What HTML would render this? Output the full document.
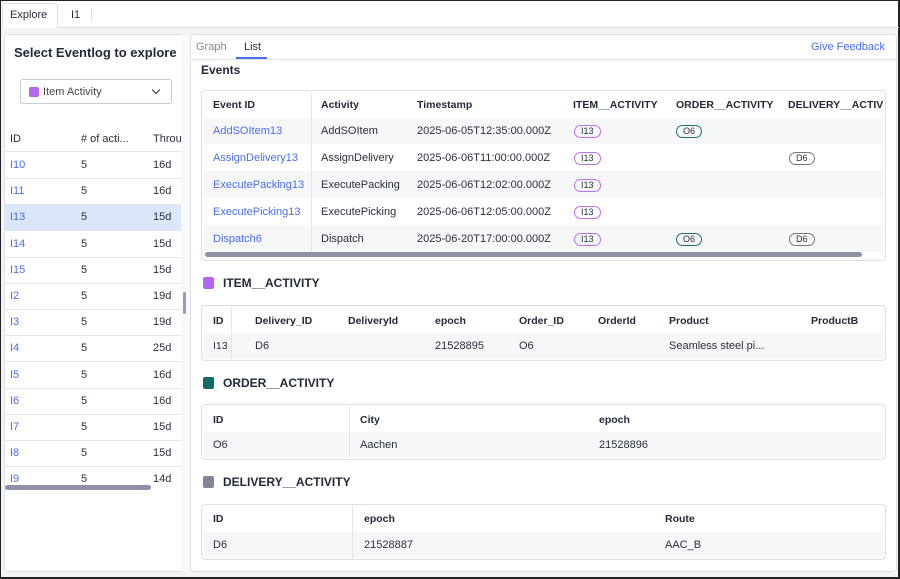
<!DOCTYPE html>
<html><head><style>
*{box-sizing:border-box;margin:0;padding:0}
body{width:900px;height:579px;overflow:hidden;background:#fff;font-family:"Liberation Sans",sans-serif;font-size:11px;color:#2a2f3d;position:relative}
.a{position:absolute;white-space:nowrap}
.lnk{color:#4a6cf0}
.b{font-weight:bold;color:#222a3a}
.h{font-weight:bold;color:#222a3a;font-size:10.5px}
.box{position:absolute;border:1px solid #dde0e6;border-radius:4px;background:#fff}
.pill{position:absolute;height:13px;border-radius:7px;font-size:9px;line-height:11px;padding:0 6px;border:1px solid}
.pi{border-color:#c06cf5}.po{border-color:#1f6f6a}.pd{border-color:#777}
.alt{position:absolute;background:#f6f7f9}
</style></head><body>
<div class="a" style="left:0;top:0;width:900px;height:579px;border:1px solid #222;border-width:1px 2px 2px 1px"></div>
<div class="a" style="top:27px;width:898px;height:1px;background:#dde0e6;left:1px"></div>
<div class="a" style="left:2px;top:3px;width:56px;height:25px;border:1px solid #dde0e6;border-bottom:none;background:#fff;border-radius:3px 3px 0 0"></div>
<div class="a" style="left:10px;top:9px;font-size:11px">Explore</div>
<div class="a" style="left:71px;top:9px">I1</div>
<div class="a" style="left:91px;top:8px;width:1px;height:14px;background:#dde0e6"></div>
<div class="a" style="left:1px;top:28px;width:897px;height:549px;background:#f3f4f6"></div>
<div class="box" style="left:4px;top:34px;width:180px;height:538px;border-right:none"></div>
<div class="a" style="left:181px;top:35px;width:9px;height:536px;background:#f8f9fa"></div>
<div class="a b" style="left:14px;top:45px;font-size:13px">Select Eventlog to explore</div>
<div class="a" style="left:20px;top:79px;width:152px;height:25px;border:1px solid #c9ccd3;border-radius:3px"></div>
<div class="a" style="left:29px;top:87px;width:10px;height:10px;background:#b565f3;border-radius:2px"></div>
<div class="a" style="left:43px;top:86px;color:#444">Item Activity</div>
<div class="a" style="left:153px;top:87px;width:6px;height:6px;border-right:1.5px solid #333;border-bottom:1.5px solid #333;transform:rotate(45deg)"></div>
<div class="a" style="left:10px;top:133px">ID</div>
<div class="a" style="left:81px;top:133px">#&nbsp;of acti...</div>
<div class="a" style="left:153px;top:133px">Throu</div>
<div class="a" style="left:4px;top:151px;width:177px;height:1px;background:#e3e5ea"></div>
<div class="a" style="left:4px;top:205px;width:177px;height:26px;background:#dce6fb"></div>
<div id="rows"></div>
<div class="a" style="left:183px;top:292px;width:3px;height:22px;background:#9a9cab;border-radius:2px"></div>
<div class="a" style="left:5px;top:485px;width:146px;height:5px;background:#8f92a6;border-radius:3px"></div>
<div class="box" style="left:190px;top:34px;width:707px;height:538px;border-radius:4px"></div>
<div class="a" style="left:196px;top:41px;color:#888">Graph</div>
<div class="a" style="left:244px;top:41px">List</div>
<div class="a" style="left:236px;top:57px;width:31px;height:2px;background:#4a6cf0"></div>
<div class="a" style="left:191px;top:59px;width:705px;height:1px;background:#dde0e6"></div>
<div class="a lnk" style="left:811px;top:41px">Give Feedback</div>
<div class="a b" style="left:201px;top:63px;font-size:12px">Events</div>
<div class="box" style="left:201px;top:90px;width:685px;height:171px"></div>
<div class="alt" style="left:203px;top:118px;width:681px;height:26px"></div>
<div class="alt" style="left:203px;top:171px;width:681px;height:27px"></div>
<div class="alt" style="left:203px;top:225px;width:681px;height:27px"></div>
<div class="a" style="left:311px;top:92px;width:1px;height:160px;background:#e3e5ea"></div>
<div class="a" style="left:205px;top:252px;width:657px;height:5px;background:#8f92a6;border-radius:3px"></div>
<div class="a h" style="left:213px;top:99px">Event ID</div>
<div class="a h" style="left:321px;top:99px">Activity</div>
<div class="a h" style="left:417px;top:99px">Timestamp</div>
<div class="a h" style="left:573px;top:99px">ITEM__ACTIVITY</div>
<div class="a h" style="left:676px;top:99px">ORDER__ACTIVITY</div>
<div class="a h" style="left:788px;top:99px;width:96px;overflow:hidden">DELIVERY__ACTIVITY</div>
<div id="ev"></div>
<div class="a" style="left:203px;top:277px;width:11px;height:12px;background:#b565f3;border-radius:2px"></div>
<div class="a b" style="left:223px;top:276px;font-size:12px">ITEM__ACTIVITY</div>
<div class="box" style="left:201px;top:305px;width:685px;height:56px"></div>
<div class="alt" style="left:203px;top:333px;width:681px;height:26px"></div>
<div class="a" style="left:231px;top:307px;width:1px;height:52px;background:#e3e5ea"></div>
<div class="a h" style="left:213px;top:315px">ID</div><div class="a h" style="left:255px;top:315px">Delivery_ID</div><div class="a h" style="left:348px;top:315px">DeliveryId</div><div class="a h" style="left:435px;top:315px">epoch</div><div class="a h" style="left:519px;top:315px">Order_ID</div><div class="a h" style="left:598px;top:315px">OrderId</div><div class="a h" style="left:669px;top:315px">Product</div><div class="a h" style="left:811px;top:315px">ProductB</div>
<div class="a" style="left:213px;top:340px;font-size:10.5px">I13</div><div class="a" style="left:255px;top:340px">D6</div><div class="a" style="left:435px;top:340px">21528895</div><div class="a" style="left:519px;top:340px">O6</div><div class="a" style="left:669px;top:340px">Seamless steel pi...</div>
<div class="a" style="left:203px;top:377px;width:11px;height:12px;background:#116b66;border-radius:2px"></div>
<div class="a b" style="left:223px;top:376px;font-size:12px">ORDER__ACTIVITY</div>
<div class="box" style="left:201px;top:404px;width:685px;height:56px"></div>
<div class="alt" style="left:203px;top:432px;width:681px;height:26px"></div>
<div class="a" style="left:349px;top:406px;width:1px;height:52px;background:#e3e5ea"></div>
<div class="a h" style="left:213px;top:414px">ID</div><div class="a h" style="left:360px;top:414px">City</div><div class="a h" style="left:599px;top:414px">epoch</div>
<div class="a" style="left:213px;top:439px">O6</div><div class="a" style="left:360px;top:439px">Aachen</div><div class="a" style="left:599px;top:439px">21528896</div>
<div class="a" style="left:203px;top:476px;width:11px;height:12px;background:#858598;border-radius:2px"></div>
<div class="a b" style="left:223px;top:475px;font-size:12px">DELIVERY__ACTIVITY</div>
<div class="box" style="left:201px;top:504px;width:685px;height:56px"></div>
<div class="alt" style="left:203px;top:532px;width:681px;height:26px"></div>
<div class="a" style="left:352px;top:506px;width:1px;height:52px;background:#e3e5ea"></div>
<div class="a h" style="left:213px;top:513px">ID</div><div class="a h" style="left:364px;top:513px">epoch</div><div class="a h" style="left:665px;top:513px">Route</div>
<div class="a" style="left:213px;top:539px">D6</div><div class="a" style="left:364px;top:539px">21528887</div><div class="a" style="left:665px;top:539px">AAC_B</div>
<script>
var r=[["I10","16d"],["I11","16d"],["I13","15d"],["I14","15d"],["I15","15d"],["I2","19d"],["I3","19d"],["I4","25d"],["I5","16d"],["I6","16d"],["I7","15d"],["I8","15d"],["I9","14d"]],h="";
r.forEach(function(x,i){var y=159+i*26.2;h+='<div class="a lnk" style="left:10px;top:'+y+'px">'+x[0]+'</div><div class="a" style="left:81px;top:'+y+'px">5</div><div class="a" style="left:153px;top:'+y+'px">'+x[1]+'</div>';if(i<12)h+='<div class="a" style="left:4px;top:'+(y+19)+'px;width:177px;height:1px;background:#e3e5ea"></div>';});
document.getElementById("rows").innerHTML=h;
var e=[["AddSOItem13","AddSOItem","2025-06-05T12:35:00.000Z",1,0],["AssignDelivery13","AssignDelivery","2025-06-06T11:00:00.000Z",0,1],["ExecutePacking13","ExecutePacking","2025-06-06T12:02:00.000Z",0,0],["ExecutePicking13","ExecutePicking","2025-06-06T12:05:00.000Z",0,0],["Dispatch6","Dispatch","2025-06-20T17:00:00.000Z",1,1]];h="";
e.forEach(function(x,i){var y=125+i*27;h+='<div class="a lnk" style="left:213px;top:'+y+'px">'+x[0]+'</div><div class="a" style="left:321px;top:'+y+'px">'+x[1]+'</div><div class="a" style="left:417px;top:'+y+'px">'+x[2]+'</div><div class="pill pi" style="left:574px;top:'+y+'px">I13</div>';if(x[3])h+='<div class="pill po" style="left:676px;top:'+y+'px">O6</div>';if(x[4])h+='<div class="pill pd" style="left:789px;top:'+y+'px">D6</div>';});
document.getElementById("ev").innerHTML=h;
</script>
</body></html>
